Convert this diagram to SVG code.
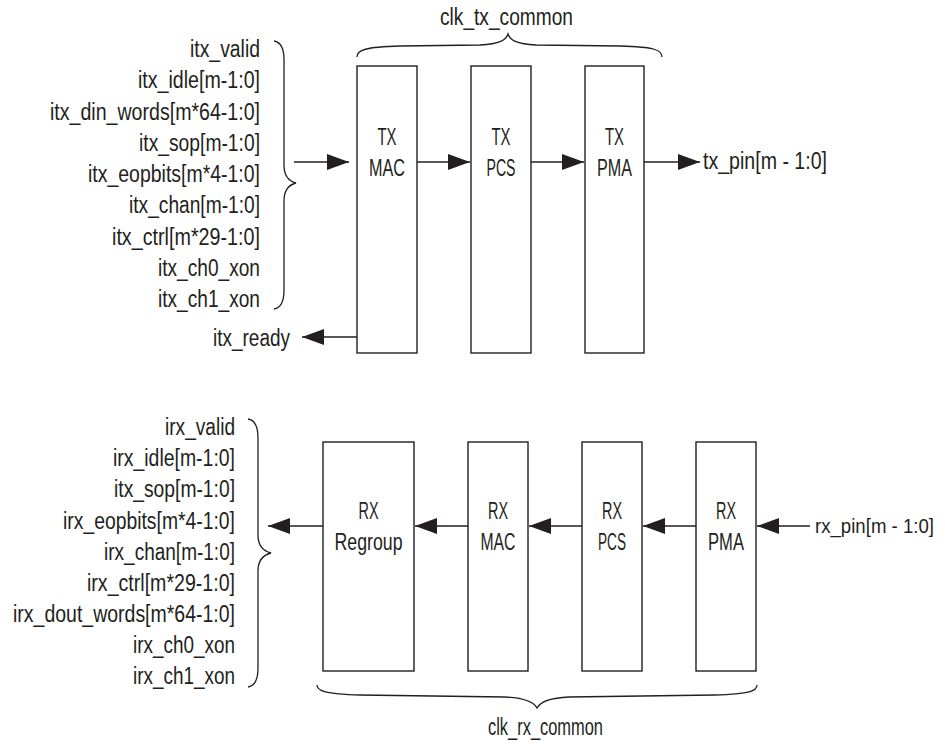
<svg xmlns="http://www.w3.org/2000/svg" width="945" height="744" viewBox="0 0 945 744">
<defs>
<style>
.box{fill:#fff;stroke:#231f20;stroke-width:1.4}
.ln{fill:none;stroke:#231f20;stroke-width:1.4}
.br{fill:none;stroke:#231f20;stroke-width:1.3}
text{font-family:"Liberation Sans",Arial,sans-serif;font-size:23px;fill:#231f20}
</style>
<marker id="ah" markerUnits="userSpaceOnUse" markerWidth="22" markerHeight="16" refX="22" refY="8" orient="auto">
<path d="M0,0 L22,8 L0,16 z" fill="#231f20"/>
</marker>
</defs>
<rect width="945" height="744" fill="#fff"/>

<g id="tx_mac"><rect class="box" x="357" y="66" width="60" height="287"/><text x="377.5" y="145" textLength="19" lengthAdjust="spacingAndGlyphs">TX</text><text x="369" y="176" textLength="36" lengthAdjust="spacingAndGlyphs">MAC</text></g>
<g id="tx_pcs"><rect class="box" x="471" y="66" width="60" height="287"/><text x="491.5" y="145" textLength="19" lengthAdjust="spacingAndGlyphs">TX</text><text x="486.5" y="176" textLength="29" lengthAdjust="spacingAndGlyphs">PCS</text></g>
<g id="tx_pma"><rect class="box" x="585" y="66" width="59" height="287"/><text x="605" y="145" textLength="19" lengthAdjust="spacingAndGlyphs">TX</text><text x="597" y="176" textLength="35" lengthAdjust="spacingAndGlyphs">PMA</text></g>

<g id="rx_regroup"><rect class="box" x="323" y="442" width="91" height="229"/><text x="358.5" y="519" textLength="20" lengthAdjust="spacingAndGlyphs">RX</text><text x="334.5" y="550" textLength="68" lengthAdjust="spacingAndGlyphs">Regroup</text></g>
<g id="rx_mac"><rect class="box" x="468" y="442" width="60" height="229"/><text x="488" y="519" textLength="20" lengthAdjust="spacingAndGlyphs">RX</text><text x="480.5" y="550" textLength="35" lengthAdjust="spacingAndGlyphs">MAC</text></g>
<g id="rx_pcs"><rect class="box" x="582" y="442" width="60" height="229"/><text x="602" y="519" textLength="20" lengthAdjust="spacingAndGlyphs">RX</text><text x="598" y="550" textLength="28" lengthAdjust="spacingAndGlyphs">PCS</text></g>
<g id="rx_pma"><rect class="box" x="696" y="442" width="60" height="229"/><text x="716" y="519" textLength="20" lengthAdjust="spacingAndGlyphs">RX</text><text x="708" y="550" textLength="36" lengthAdjust="spacingAndGlyphs">PMA</text></g>

<g id="tx_inputs">
<text x="190" y="57" textLength="70" lengthAdjust="spacingAndGlyphs">itx_valid</text>
<text x="138" y="88" textLength="122" lengthAdjust="spacingAndGlyphs">itx_idle[m-1:0]</text>
<text x="50" y="120" textLength="210" lengthAdjust="spacingAndGlyphs">itx_din_words[m*64-1:0]</text>
<text x="139" y="151" textLength="121" lengthAdjust="spacingAndGlyphs">itx_sop[m-1:0]</text>
<text x="88" y="182" textLength="172" lengthAdjust="spacingAndGlyphs">itx_eopbits[m*4-1:0]</text>
<text x="129" y="213" textLength="131" lengthAdjust="spacingAndGlyphs">itx_chan[m-1:0]</text>
<text x="112" y="245" textLength="148" lengthAdjust="spacingAndGlyphs">itx_ctrl[m*29-1:0]</text>
<text x="158" y="276" textLength="102" lengthAdjust="spacingAndGlyphs">itx_ch0_xon</text>
<text x="158" y="307" textLength="102" lengthAdjust="spacingAndGlyphs">itx_ch1_xon</text>
<path class="br" d="M274,41 C281,42 284,48 284,60 L284,165 C284,176 288,181 296,183 C288,185 284,190 284,201 L284,290 C284,302 281,308 274,309"/>
</g>
<g id="tx_ready"><text x="213" y="346" textLength="77" lengthAdjust="spacingAndGlyphs">itx_ready</text></g>
<g id="tx_pin"><text x="703" y="169" textLength="124" lengthAdjust="spacingAndGlyphs">tx_pin[m - 1:0]</text></g>
<g id="clk_tx"><text x="440" y="25" textLength="133" lengthAdjust="spacingAndGlyphs">clk_tx_common</text>
<path class="br" d="M357,57 C357,50 365,47 400,46 L480,45 C500,44 506,40 508,34 C510,40 516,44 536,45 L620,46 C655,47 662,50 662,57"/></g>

<g id="rx_outputs">
<text x="165" y="435" textLength="70" lengthAdjust="spacingAndGlyphs">irx_valid</text>
<text x="113" y="466" textLength="122" lengthAdjust="spacingAndGlyphs">irx_idle[m-1:0]</text>
<text x="114" y="497" textLength="121" lengthAdjust="spacingAndGlyphs">itx_sop[m-1:0]</text>
<text x="63" y="529" textLength="172" lengthAdjust="spacingAndGlyphs">irx_eopbits[m*4-1:0]</text>
<text x="104" y="560" textLength="131" lengthAdjust="spacingAndGlyphs">irx_chan[m-1:0]</text>
<text x="87" y="591" textLength="148" lengthAdjust="spacingAndGlyphs">irx_ctrl[m*29-1:0]</text>
<text x="13" y="622" textLength="222" lengthAdjust="spacingAndGlyphs">irx_dout_words[m*64-1:0]</text>
<text x="133" y="653" textLength="102" lengthAdjust="spacingAndGlyphs">irx_ch0_xon</text>
<text x="133" y="684" textLength="102" lengthAdjust="spacingAndGlyphs">irx_ch1_xon</text>
<path class="br" d="M248,419 C255,420 258,426 258,438 L258,535 C258,546 263,551 271,553 C263,555 258,560 258,571 L258,668 C258,680 255,686 248,687"/>
</g>
<g id="rx_pin"><text x="815" y="533" style="font-size:20px" textLength="119" lengthAdjust="spacingAndGlyphs">rx_pin[m - 1:0]</text></g>
<g id="clk_rx"><text x="488" y="735" textLength="115" lengthAdjust="spacingAndGlyphs">clk_rx_common</text>
<path class="br" d="M317,685 C317,691 325,694 360,695 L505,697 C525,698 534,702 537,708 C540,702 549,698 569,697 L715,695 C750,694 757,691 757,685"/></g>

<g id="connectors">
<path class="ln" d="M294,162 L349,162" marker-end="url(#ah)"/>
<path class="ln" d="M417,162 L470,162" marker-end="url(#ah)"/>
<path class="ln" d="M531,162 L584,162" marker-end="url(#ah)"/>
<path class="ln" d="M644,162 L700,162" marker-end="url(#ah)"/>
<path class="ln" d="M357,337 L302,337" marker-end="url(#ah)"/>
<path class="ln" d="M810,526 L757,526" marker-end="url(#ah)"/>
<path class="ln" d="M696,526 L643,526" marker-end="url(#ah)"/>
<path class="ln" d="M582,526 L529,526" marker-end="url(#ah)"/>
<path class="ln" d="M468,526 L415,526" marker-end="url(#ah)"/>
<path class="ln" d="M323,526 L268,526" marker-end="url(#ah)"/>
</g>
</svg>
